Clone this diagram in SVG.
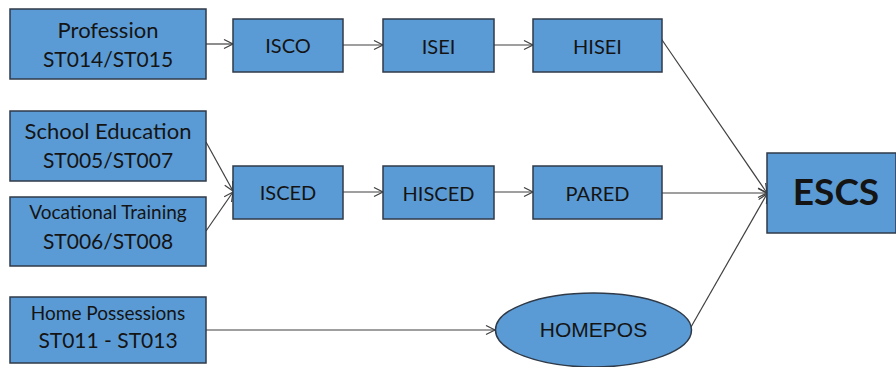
<svg xmlns="http://www.w3.org/2000/svg" width="896" height="367" viewBox="0 0 896 367">
<defs>
<marker id="arr" markerWidth="12" markerHeight="12" refX="10" refY="5" orient="auto" markerUnits="userSpaceOnUse">
<path d="M1,0.5 L10,5 L1,9.5" fill="none" stroke="#404040" stroke-width="1.2"/>
</marker>
</defs>
<style>
.box{fill:#5B9BD5;stroke:#2F3A48;stroke-width:1.5}
.t{font-family:Lato,"Open Sans",sans-serif;fill:#141414;text-anchor:middle}
.c{stroke:#404040;stroke-width:1.2;fill:none;marker-end:url(#arr)}
</style>
<rect width="896" height="367" fill="#FFFFFF"/>
<g id="connectors">
<line class="c" x1="206" y1="44" x2="233" y2="44"/>
<line class="c" x1="343" y1="45" x2="383" y2="45"/>
<line class="c" x1="494" y1="45" x2="533" y2="45"/>
<line class="c" x1="206" y1="142" x2="233" y2="191"/>
<line class="c" x1="206" y1="231" x2="233" y2="192"/>
<line class="c" x1="343" y1="192" x2="383" y2="192"/>
<line class="c" x1="494" y1="192" x2="533" y2="192"/>
<line class="c" x1="660" y1="37" x2="767" y2="193"/>
<line class="c" x1="662" y1="193" x2="767" y2="193"/>
<line class="c" x1="691" y1="327" x2="767" y2="194"/>
<line class="c" x1="206" y1="330" x2="495" y2="330"/>
</g>
<g id="profession">
<rect class="box" x="10" y="9" width="196" height="70"/>
<text class="t" x="108" y="38" font-size="22">Profession</text>
<text class="t" x="108" y="67" font-size="21">ST014/ST015</text>
</g>
<g id="isco">
<rect class="box" x="233" y="19" width="110" height="53"/>
<text class="t" x="288" y="53" font-size="20">ISCO</text>
</g>
<g id="isei">
<rect class="box" x="383" y="19" width="111" height="53"/>
<text class="t" x="438.5" y="54" font-size="20">ISEI</text>
</g>
<g id="hisei">
<rect class="box" x="533" y="19" width="129" height="53"/>
<text class="t" x="597.5" y="54" font-size="20">HISEI</text>
</g>
<g id="school">
<rect class="box" x="10" y="111" width="196" height="70"/>
<text class="t" x="108" y="139" font-size="22">School Education</text>
<text class="t" x="108" y="168" font-size="21">ST005/ST007</text>
</g>
<g id="vocational">
<rect class="box" x="10" y="197" width="196" height="69"/>
<text class="t" x="108" y="219" font-size="19">Vocational Training</text>
<text class="t" x="108" y="249" font-size="21">ST006/ST008</text>
</g>
<g id="isced">
<rect class="box" x="233" y="166" width="110" height="53"/>
<text class="t" x="288" y="200" font-size="20">ISCED</text>
</g>
<g id="hisced">
<rect class="box" x="383" y="166" width="111" height="53"/>
<text class="t" x="438.5" y="201" font-size="20">HISCED</text>
</g>
<g id="pared">
<rect class="box" x="533" y="166" width="129" height="53"/>
<text class="t" x="597.5" y="201" font-size="20">PARED</text>
</g>
<g id="escs">
<rect class="box" x="767" y="153" width="129" height="80"/>
<text class="t" x="836" y="205" font-size="37" font-weight="bold">ESCS</text>
</g>
<g id="home">
<rect class="box" x="10" y="297" width="196" height="66"/>
<text class="t" x="108" y="320" font-size="19">Home Possessions</text>
<text class="t" x="108" y="348" font-size="21">ST011 - ST013</text>
</g>
<g id="homepos">
<ellipse class="box" cx="593.5" cy="330" rx="98" ry="37"/>
<text x="593.5" y="337" font-size="21" font-family="'Liberation Sans',Arial,sans-serif" fill="#141414" text-anchor="middle">HOMEPOS</text>
</g>
</svg>
